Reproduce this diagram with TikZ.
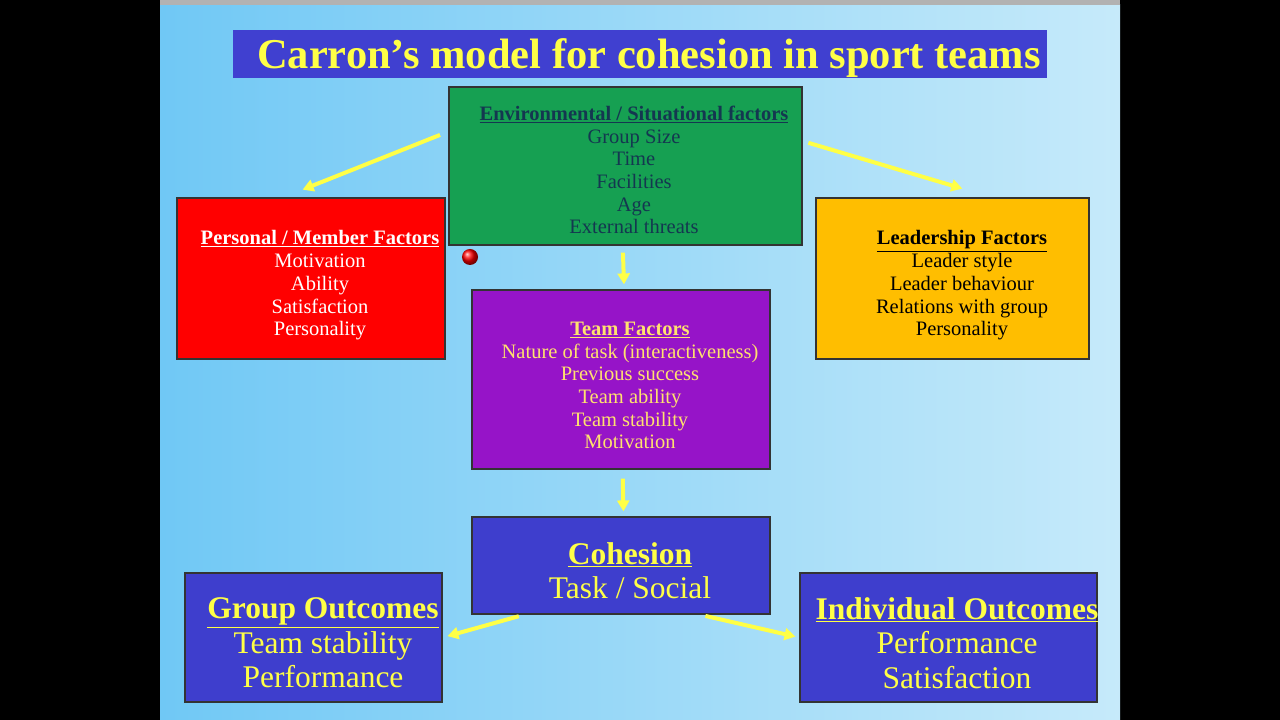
\documentclass[tikz,border=0pt]{standalone}
\usepackage{fontspec}
\setmainfont{Liberation Serif}
\usetikzlibrary{arrows.meta}
\definecolor{bgL}{RGB}{112,200,245}
\definecolor{bgR}{RGB}{198,234,250}
\definecolor{titleblue}{RGB}{64,64,208}
\definecolor{envgreen}{RGB}{22,160,82}
\definecolor{envtext}{RGB}{20,55,80}
\definecolor{persred}{RGB}{255,0,0}
\definecolor{leadorange}{RGB}{255,190,0}
\definecolor{teampurple}{RGB}{150,20,200}
\definecolor{teamtext}{RGB}{255,226,110}
\definecolor{cohblue}{RGB}{62,62,205}
\definecolor{ylw}{RGB}{255,255,70}
\newcommand{\boxfont}{\fontsize{20.5bp}{22.7bp}\selectfont}
\newcommand{\bigtxt}{\fontsize{31.5bp}{34.5bp}\selectfont}
\newcommand{\hd}[1]{\textbf{\underline{#1}}}
\begin{document}
\begin{tikzpicture}[
    box/.style={draw=black!80,line width=1.2bp,inner sep=0pt},
    txt/.style={align=center,inner sep=0pt},
    arr/.style={draw=ylw,line width=4bp,-{Triangle[length=11bp,width=12bp]}}]
  \useasboundingbox (0bp,0bp) rectangle (1280bp,720bp);
  \fill [black] (0bp,0bp) rectangle (1280bp,720bp);
  \shade [left color=bgL,right color=bgR] (160bp,0bp) rectangle (1120bp,715bp);
  \fill [black!30] (160bp,715bp) rectangle (1120bp,720bp);
  % title
  \node (title) at (640bp,666bp) [fill=titleblue,minimum width=814bp,minimum height=48bp,inner sep=0pt] {};
  \node (titletxt) at (649bp,662bp) [txt,text=ylw,font=\fontsize{42.5bp}{46bp}\selectfont\bfseries] {Carron’s model for cohesion in sport teams};
  % boxes
  \node (env) at (625.5bp,554bp) [box,fill=envgreen,minimum width=353bp,minimum height=158bp] {};
  \node (pers) at (311bp,441.5bp) [box,fill=persred,minimum width=268bp,minimum height=161bp] {};
  \node (lead) at (952.5bp,441.5bp) [box,fill=leadorange,minimum width=273bp,minimum height=161bp] {};
  \node (team) at (621bp,340.5bp) [box,fill=teampurple,minimum width=298bp,minimum height=179bp] {};
  \node (coh) at (621bp,154.5bp) [box,fill=cohblue,minimum width=298bp,minimum height=97bp] {};
  \node (group) at (313.5bp,82.5bp) [box,fill=cohblue,minimum width=257bp,minimum height=129bp] {};
  \node (indiv) at (948.5bp,82.5bp) [box,fill=cohblue,minimum width=297bp,minimum height=129bp] {};
  % texts
  \node (envtxt) at (634bp,550bp) [txt,text=envtext,font=\boxfont] {\hd{Environmental / Situational factors}\\Group Size\\Time\\Facilities\\Age\\External threats};
  \node (perstxt) at (320bp,434.5bp) [txt,text=white,font=\boxfont] {\hd{Personal / Member Factors}\\Motivation\\Ability\\Satisfaction\\Personality};
  \node (leadtxt) at (962bp,434.5bp) [txt,text=black,font=\boxfont] {\hd{Leadership Factors}\\Leader style\\Leader behaviour\\Relations with group\\Personality};
  \node (teamtxt) at (630bp,334.5bp) [txt,text=teamtext,font=\boxfont] {\hd{Team Factors}\\Nature of task (interactiveness)\\Previous success\\Team ability\\Team stability\\Motivation};
  \node (cohtxt) at (630bp,149.5bp) [txt,text=ylw,font=\bigtxt] {\hd{Cohesion}\\Task / Social};
  \node (grouptxt) at (323bp,77bp) [txt,text=ylw,font=\bigtxt] {\hd{Group Outcomes}\\Team stability\\Performance};
  \node (indivtxt) at (957bp,77bp) [txt,text=ylw,font=\bigtxt] {\hd{Individual Outcomes}\\Performance\\Satisfaction};
  % arrows
  \draw [arr,shorten <=9bp,shorten >=21bp] (env.169.4) -- (pers.109.2);
  \draw [arr,shorten <=6bp,shorten >=31bp] (env.8.1) -- (lead.64.4);
  \draw [arr,shorten <=7bp,shorten >=5bp] (env.268.2) -- (team.88.7);
  \draw [arr,shorten <=9bp,shorten >=5bp] (team.271.3) -- (coh.87.6);
  \draw [arr,shorten <=6bp,shorten >=5bp] (coh.207.5) -- (group.east);
  \draw [arr,shorten <=6bp,shorten >=4bp] (coh.-32.5) -- (indiv.west);
  % pointer
  \shade [ball color=red] (470bp,463bp) circle (8bp);
\end{tikzpicture}
\end{document}
